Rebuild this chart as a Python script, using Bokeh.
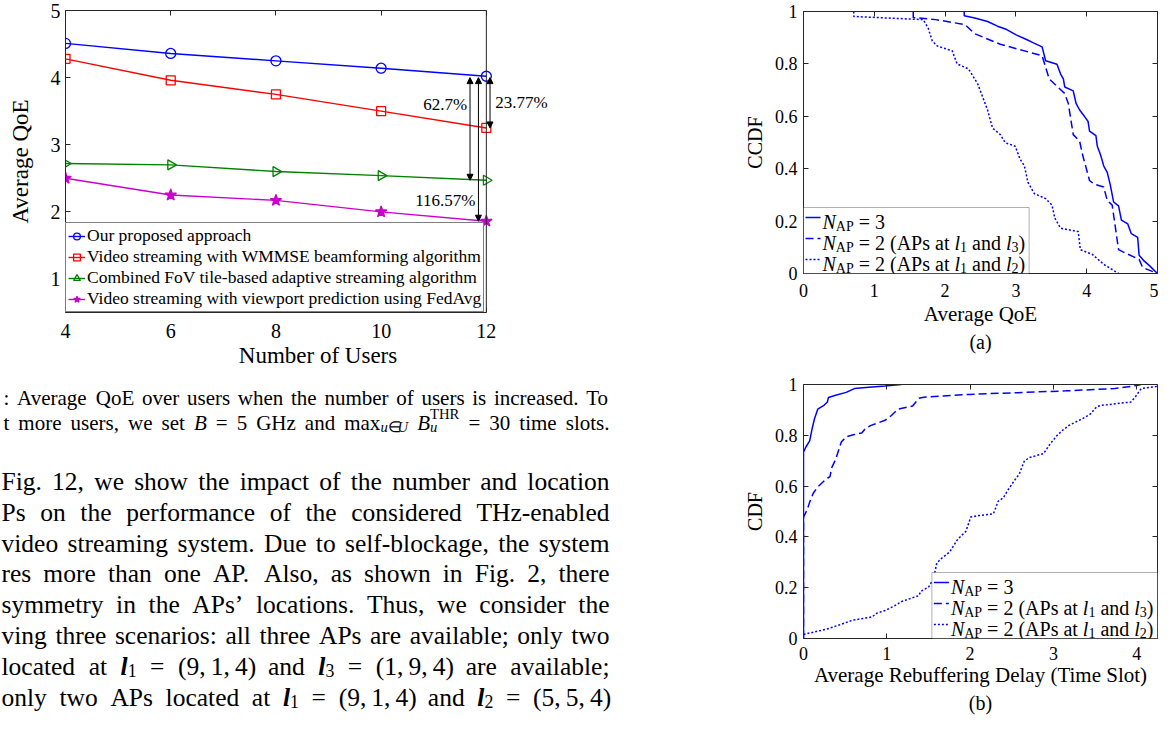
import numpy as np
from bokeh.plotting import figure
from bokeh.models import (Range1d, FixedTicker, LinearAxis, CustomJSTickFormatter, Legend,
                          LegendItem, Label, Arrow, NormalHead, BoxAnnotation, Span, Title)
from bokeh.layouts import row, column
from bokeh.embed import file_html
from bokeh.resources import INLINE

FONT = "Liberation Serif"
INK = "#262626"

# ---------------- data: Fig. 11 (left chart) ----------------
users = [4, 6, 8, 10, 12]
qoe_proposed = [4.51, 4.36, 4.25, 4.14, 4.02]
qoe_wmmse = [4.28, 3.96, 3.75, 3.50, 3.25]
qoe_fov = [2.72, 2.70, 2.60, 2.54, 2.47]
qoe_fedavg = [2.50, 2.25, 2.17, 2.00, 1.86]
series_names = ["Our proposed approach",
                "Video streaming with WMMSE beamforming algorithm",
                "Combined FoV tile-based adaptive streaming algorithm",
                "Video streaming with viewport prediction using FedAvg"]
gain_labels = ["23.77%", "62.7%", "116.57%"]

# ---------------- data: Fig. 12(a) CCDF of average QoE ----------------
a_ap3_x = [2.27, 2.27, 2.42, 2.60, 2.74, 2.87, 3.01, 3.15, 3.24, 3.37, 3.42, 3.58, 3.63, 3.67,
           3.69, 3.81, 3.85, 3.90, 3.97, 4.02, 4.04, 4.13, 4.15, 4.20, 4.24, 4.29, 4.33, 4.38,
           4.45, 4.49, 4.58, 4.63, 4.72, 4.74, 4.81, 4.89, 5.00]
a_ap3_y = [1.0, 0.984, 0.975, 0.962, 0.944, 0.931, 0.910, 0.893, 0.881, 0.865, 0.812, 0.799,
           0.762, 0.743, 0.712, 0.697, 0.649, 0.624, 0.599, 0.580, 0.543, 0.526, 0.486, 0.449,
           0.411, 0.386, 0.342, 0.273, 0.258, 0.204, 0.189, 0.152, 0.138, 0.070, 0.048, 0.029, 0.0]
a_l13_x = [1.55, 1.55, 1.87, 2.28, 2.42, 2.78, 3.37, 3.47, 3.69, 3.74, 3.81, 3.90, 3.94, 4.04,
           4.10, 4.24, 4.29, 4.36, 4.45, 4.54, 4.74, 4.79, 5.00]
a_l13_y = [1.0, 0.977, 0.969, 0.950, 0.915, 0.875, 0.831, 0.743, 0.687, 0.649, 0.530, 0.505,
           0.455, 0.355, 0.342, 0.330, 0.279, 0.261, 0.091, 0.079, 0.054, 0.023, 0.0]
a_l12_x = [0.71, 0.71, 1.69, 1.76, 1.82, 1.89, 2.10, 2.17, 2.33, 2.46, 2.60, 2.67, 2.78, 2.85,
           2.99, 3.06, 3.12, 3.17, 3.26, 3.42, 3.51, 3.55, 3.63, 3.88, 3.91, 4.08, 4.24, 4.45]
a_l12_y = [1.0, 0.981, 0.969, 0.937, 0.887, 0.868, 0.850, 0.800, 0.781, 0.724, 0.624, 0.555,
           0.530, 0.499, 0.486, 0.436, 0.411, 0.348, 0.305, 0.286, 0.261, 0.211, 0.173, 0.160,
           0.091, 0.073, 0.035, 0.0]

# ---------------- data: Fig. 12(b) CDF of rebuffering delay ----------------
b_ap3_x = [0, 0, 0.027, 0.074, 0.105, 0.132, 0.171, 0.249, 0.287, 0.299, 0.396, 0.513, 0.610,
           0.784, 0.979, 1.173]
b_ap3_y = [0, 0.734, 0.753, 0.778, 0.828, 0.865, 0.903, 0.919, 0.931, 0.949, 0.959, 0.969,
           0.984, 0.989, 0.994, 1.0]
b_l13_x = [0, 0, 0.047, 0.074, 0.117, 0.171, 0.272, 0.318, 0.338, 0.388, 0.454, 0.513, 0.610,
           0.699, 0.746, 0.804, 0.979, 1.056, 1.134, 1.250, 1.309, 1.386, 1.445, 1.988, 2.571,
           3.153, 3.736, 4.0, 4.05]
b_l13_y = [0, 0.478, 0.509, 0.537, 0.572, 0.597, 0.628, 0.637, 0.672, 0.707, 0.774, 0.794,
           0.803, 0.809, 0.828, 0.838, 0.859, 0.878, 0.903, 0.911, 0.915, 0.946, 0.950, 0.961,
           0.968, 0.975, 0.984, 0.996, 1.0]
b_l12_x = [0, 0.280, 0.435, 0.590, 0.823, 0.882, 0.979, 1.095, 1.173, 1.386, 1.406, 1.503,
           1.561, 1.600, 1.658, 1.755, 1.852, 1.950, 2.008, 2.105, 2.280, 2.338, 2.396, 2.454,
           2.532, 2.590, 2.649, 2.707, 2.882, 2.959, 3.037, 3.115, 3.192, 3.348, 3.445, 3.522,
           3.581, 3.930, 3.988, 4.054, 4.25]
b_l12_y = [0.016, 0.037, 0.054, 0.072, 0.085, 0.100, 0.110, 0.129, 0.145, 0.169, 0.185, 0.203,
           0.235, 0.297, 0.316, 0.341, 0.391, 0.422, 0.478, 0.484, 0.491, 0.541, 0.553, 0.584,
           0.622, 0.647, 0.697, 0.712, 0.728, 0.765, 0.797, 0.821, 0.840, 0.865, 0.884, 0.913,
           0.918, 0.931, 0.953, 0.984, 0.993]

# ---------------- text metrics (Times-compatible advance widths) ----------------
REG = dict(zip("ABCDEFGHIJKLMNOPQRSTUVWXYZ",
               [722, 667, 667, 722, 611, 556, 722, 722, 333, 389, 722, 611, 889, 722, 722, 556,
                722, 667, 556, 611, 722, 722, 944, 722, 722, 611]))
REG.update(zip("abcdefghijklmnopqrstuvwxyz",
               [444, 500, 444, 500, 444, 333, 500, 500, 278, 278, 500, 278, 778, 500, 500, 500,
                500, 333, 389, 278, 500, 500, 722, 500, 500, 444]))
REG.update({d: 500 for d in "0123456789"})
REG.update({' ': 250, ',': 250, '.': 250, ':': 278, ';': 278, '(': 333, ')': 333, '-': 333,
            '=': 564, '%': 833, '\u2019': 333, "'": 180, '\u2208': 667, '\u2009': 167})
ITAL = {'N': 667, 'B': 611, 'u': 500, 'U': 722, 'l': 278}


def tw(text, style):
    t = 0
    for ch in text:
        w = ITAL.get(ch) if "italic" in style else None
        if w is None:
            w = REG.get(ch, 500)
        t += w
    return t / 1000.0


def S(text, style="normal", scale=1.0, dy=0.0, adv=True):
    return (text, style, scale, dy, adv)


def as_segs(word):
    return [S(word)] if isinstance(word, str) else word


def rich(p, x, y, segs, size, base_dy=0.0, color="black", draw=True):
    cursor = 0.0
    pend = 0.0
    for text, style, scale, dy, adv in segs:
        fs = size * scale
        sp = REG[' '] / 1000.0 * fs
        lead = len(text) - len(text.lstrip(' '))
        trail = len(text) - len(text.rstrip(' '))
        core = text.strip(' ')
        if draw and core:
            p.add_layout(Label(x=x, y=y, x_offset=cursor + lead * sp, y_offset=base_dy + dy,
                               text=core, text_font=FONT, text_font_size=f"{fs:.1f}px",
                               text_font_style=style, text_color=color,
                               text_baseline="alphabetic", text_align="left"))
        w = lead * sp + tw(core, style) * fs + trail * sp
        if adv:
            cursor += max(w, pend)
            pend = 0.0
        else:
            pend = w
    return cursor


def justified(p, x0, x1, y, words, size):
    segs = [as_segs(w) for w in words]
    widths = [rich(p, 0, 0, s, size, draw=False) for s in segs]
    gap = (x1 - x0 - sum(widths)) / max(len(words) - 1, 1)
    x = x0
    for s, w in zip(segs, widths):
        rich(p, x, y, s, size)
        x += w + gap


def style_axes(p, tick_size, label_size, tick_standoff, label_standoffs):
    for ax in p.axis:
        ax.axis_line_color = INK
        ax.major_tick_line_color = INK
        ax.major_tick_in = 5
        ax.major_tick_out = 0
        ax.minor_tick_line_color = None
        ax.major_label_text_font = FONT
        ax.major_label_text_font_size = f"{tick_size}px"
        ax.major_label_text_color = "black"
        ax.axis_label_text_font = FONT
        ax.axis_label_text_font_size = f"{label_size}px"
        ax.axis_label_text_font_style = "normal"
        ax.axis_label_text_color = "black"
    p.xaxis.major_label_standoff = tick_standoff[0]
    p.yaxis.major_label_standoff = tick_standoff[1]
    p.xaxis.axis_label_standoff = label_standoffs[0]
    p.yaxis.axis_label_standoff = label_standoffs[1]


def box_axis(ticks, bounds="auto"):
    return LinearAxis(ticker=FixedTicker(ticks=ticks),
                      formatter=CustomJSTickFormatter(code="return ''"),
                      major_tick_in=5, major_tick_out=0, minor_tick_line_color=None,
                      axis_line_color=INK, major_tick_line_color=INK, bounds=bounds,
                      major_label_standoff=0, major_label_text_font_size="1px")


# ======================= Fig. 11 =======================
# x range extends past 12 so the gain labels beside the box stay visible; the box itself
# ends at 12 (axis bounds + edge line).
p1 = figure(width=725, height=380, x_range=Range1d(4, 13.6), y_range=Range1d(0.5, 5),
            toolbar_location=None, output_backend="svg", frame_align=False, title=None,
            min_border_left=65, min_border_right=155, min_border_top=10, min_border_bottom=68)
p1.outline_line_color = None
p1.grid.visible = False
p1.xaxis.ticker = FixedTicker(ticks=users)
p1.xaxis.bounds = (users[0], users[-1])
p1.yaxis.ticker = FixedTicker(ticks=[1, 2, 3, 4, 5])
p1.xaxis.axis_label = "Number of Users"
p1.yaxis.axis_label = "Average QoE"
style_axes(p1, 20, 23, (11, 5), (2, 15))
p1.add_layout(box_axis(users, (users[0], users[-1])), "above")
p1.add_layout(Span(location=users[-1], dimension="height", line_color=INK, line_width=1))

styles = [("#0000ff", "circle", 10, None, 0.0),
          ("#ff0000", "square", 9, None, 0.0),
          ("#008000", "triangle", 10, None, -np.pi / 2),
          ("#cc00cc", "star", 12, "#cc00cc", 0.0)]
items = []
for vals, name, (col, mk, sz, fill, ang) in zip(
        [qoe_proposed, qoe_wmmse, qoe_fov, qoe_fedavg], series_names, styles):
    lr = p1.line(users, vals, line_color=col, line_width=1.4)
    sr = p1.scatter(users, vals, marker=mk, size=sz, angle=ang, line_color=col,
                    fill_color=fill, line_width=1.3)
    items.append(LegendItem(label=name, renderers=[lr, sr]))
leg = Legend(items=items, location=(0, 0), margin=0, padding=2, spacing=0,
             label_height=20, glyph_height=20, glyph_width=17, label_standoff=2,
             label_text_font=FONT, label_text_font_size="17.5px", label_text_color="black",
             border_line_color="black", border_line_width=1, background_fill_color="white",
             background_fill_alpha=1.0)
p1.add_layout(leg)

head = dict(size=6, fill_color="black", line_color="black", line_width=1)
for xa, yb in ((12.07, qoe_wmmse[-1]), (11.69, qoe_fov[-1]), (11.85, qoe_fedavg[-1])):
    p1.add_layout(Arrow(x_start=xa, y_start=qoe_proposed[-1] - 0.02, x_end=xa, y_end=yb,
                        start=NormalHead(**head), end=NormalHead(**head),
                        line_color="black", line_width=1))
for txt, xl, yl, al in ((gain_labels[0], 12.17, 3.63, "left"),
                        (gain_labels[1], 11.22, 3.60, "center"),
                        (gain_labels[2], 11.22, 2.17, "center")):
    p1.add_layout(Label(x=xl, y=yl, text=txt, text_font=FONT, text_font_size="17px",
                        text_align=al, text_baseline="middle", text_color="black"))

# ======================= caption & body text =======================
TH = 335
pt = figure(width=725, height=TH, x_range=Range1d(0, 725), y_range=Range1d(TH, 0),
            toolbar_location=None, output_backend="svg", x_axis_location=None,
            y_axis_location=None, min_border=0, frame_align=False, title=None)
pt.outline_line_color = None
pt.grid.visible = False

CAP = 21.0
sub_c = -0.2 * CAP
M_B = [S("B", "italic")]
M_MAX = [S("max"), S("u", "italic", 0.7, sub_c), S("\u2208", "normal", 0.7, sub_c),
         S("U", "italic", 0.7, sub_c)]
M_BTHR = [S("B", "italic"), S("u", "italic", 0.7, sub_c, adv=False),
          S("THR", "normal", 0.7, 0.42 * CAP)]
caption_lines = [
    ": Average QoE over users when the number of users is increased. To".split(),
    ["t", "more", "users,", "we", "set", M_B, "=", "5", "GHz", "and", M_MAX, M_BTHR, "=",
     "30", "time", "slots."],
]
for i, words in enumerate(caption_lines):
    justified(pt, 3, 609, 17.0 + 25 * i, words, CAP)

BODY = 25.5
sub_b = -0.17 * BODY


def L(k):
    return [S("l", "bold italic"), S(str(k), "normal", 0.7, sub_b)]


body_lines = [
    "Fig. 12, we show the impact of the number and location".split(),
    "Ps on the performance of the considered THz-enabled".split(),
    "video streaming system. Due to self-blockage, the system".split(),
    "res more than one AP. Also, as shown in Fig. 2, there".split(),
    "symmetry in the APs\u2019 locations. Thus, we consider the".split(),
    "ving three scenarios: all three APs are available; only two".split(),
    ["located", "at", L(1), "=", "(9,\u20091,\u20094)", "and", L(3), "=", "(1,\u20099,\u20094)",
     "are", "available;"],
    ["only", "two", "APs", "located", "at", L(1), "=", "(9,\u20091,\u20094)", "and", L(2), "=",
     "(5,\u20095,\u20094)"],
]
for i, words in enumerate(body_lines):
    justified(pt, 1, 609, 101.0 + 30.8 * i, words, BODY)


# ======================= Fig. 12 (a) and (b) =======================
YT = [0, 0.2, 0.4, 0.6, 0.8, 1.0]
FW = 433 - 78 - 1


def cdf_fig(height, xr, xticks, ylabel, xlabel, top, bottom, tag, tstand, lstand, tistand):
    p = figure(width=433, height=height, x_range=Range1d(0, xr), y_range=Range1d(0, 1),
               toolbar_location=None, output_backend="svg", frame_align=False, title=None,
               min_border_left=78, min_border_right=1, min_border_top=top,
               min_border_bottom=bottom)
    p.outline_line_color = None
    p.grid.visible = False
    p.xaxis.ticker = FixedTicker(ticks=xticks)
    p.yaxis.ticker = FixedTicker(ticks=YT)
    fmt = CustomJSTickFormatter(code="return Number(tick.toFixed(1)).toString()")
    p.xaxis.formatter = fmt
    p.yaxis.formatter = fmt
    p.xaxis.axis_label = xlabel
    p.yaxis.axis_label = ylabel
    style_axes(p, 18, 21, (tstand, 6), (lstand, 6))
    p.yaxis.axis_label_text_font_size = "20px"
    p.add_layout(box_axis(xticks), "above")
    p.add_layout(box_axis(YT), "right")
    p.add_layout(Title(text=tag, align="center", text_font=FONT, text_font_size="20px",
                       text_font_style="normal", text_color="black", standoff=tistand),
                 "below")
    return p


DASH = ["solid", "8 4", "2 2"]
LEG = 20.0


def legend_entries(k):
    base = [S("N", "italic"), S("AP", "normal", 0.7, -5)]
    if k == 0:
        return base + [S(" = 3")]
    return base + [S(" = 2 (APs at "), S("l", "italic"), S("1", "normal", 0.7, -4),
                   S(" and "), S("l", "italic"), S("3" if k == 1 else "2", "normal", 0.7, -4),
                   S(")")]


def manual_legend(p, fw, fh, xr, right_aligned):
    dx = xr / fw
    dy = 1.0 / fh
    ents = [legend_entries(0), legend_entries(1), legend_entries(2)]
    tws = [rich(p, 0, 0, e, LEG, draw=False) for e in ents]
    box_w = 19 + max(tws) + 4
    box_h = 66
    left = xr - box_w * dx if right_aligned else 0.0
    p.add_layout(BoxAnnotation(left=left, right=left + box_w * dx, bottom=0, top=box_h * dy,
                               fill_color="white", fill_alpha=1.0, line_color="black",
                               line_width=1))
    for i, (e, cpx) in enumerate(zip(ents, (10, 31, 52))):
        yc = (box_h - cpx) * dy
        p.add_layout(Arrow(x_start=left + 2 * dx, y_start=yc, x_end=left + 17 * dx, y_end=yc,
                           end=None, line_color="#0000ff", line_width=1.5, line_dash=DASH[i]))
        rich(p, left + 19 * dx, yc, e, LEG, base_dy=-4)


A_TOP, A_BOT, A_H = 11, 100, 373
pa = cdf_fig(A_H, 5, [0, 1, 2, 3, 4, 5], "CCDF", "Average QoE", A_TOP, A_BOT, "(a)", 10, 2, 1)
for xs, ys, d in ((a_ap3_x, a_ap3_y, DASH[0]), (a_l13_x, a_l13_y, DASH[1]),
                  (a_l12_x, a_l12_y, DASH[2])):
    pa.line(xs, ys, line_color="#0000ff", line_width=1.5, line_dash=d)
manual_legend(pa, FW, A_H - A_TOP - A_BOT, 5, False)

B_TOP, B_BOT, B_H = 11, 77, 342
pb = cdf_fig(B_H, 4.25, [0, 1, 2, 3, 4], "CDF", "Average Rebuffering Delay (Time Slot)",
             B_TOP, B_BOT, "(b)", 8, 0, 0)
for xs, ys, d in ((b_ap3_x, b_ap3_y, DASH[0]), (b_l13_x, b_l13_y, DASH[1]),
                  (b_l12_x, b_l12_y, DASH[2])):
    pb.line(xs, ys, line_color="#0000ff", line_width=1.5, line_dash=d)
manual_legend(pb, FW, B_H - B_TOP - B_BOT, 4.25, True)

layout = row(column(p1, pt), column(pa, pb))
open("out.html", "w").write(file_html(layout, INLINE))
